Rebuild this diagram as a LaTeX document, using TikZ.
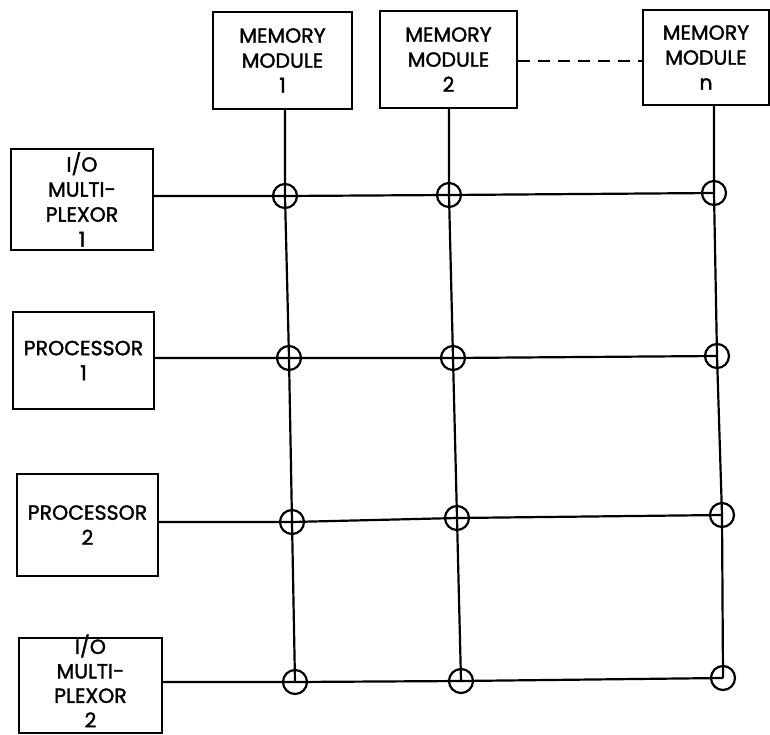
\documentclass[tikz,border=0pt]{standalone}
\usepackage{fontspec}
\setmainfont{Poppins}[FakeBold=1.6]
\begin{document}
\begin{tikzpicture}[x=1pt,y=-1pt,
  box/.style={draw,line width=2.2pt,rectangle,align=center,inner sep=0pt,
    font=\fontsize{20.5}{25}\selectfont},
  txt/.style={align=center,inner sep=0pt,font=\fontsize{20.5}{24.5}\selectfont},
  xing/.style={draw,circle,line width=2.2pt,minimum size=24pt,inner sep=0pt},
  wire/.style={line width=2.2pt}]
\useasboundingbox (0,0) rectangle (770,735);
% memory modules
\node[box,minimum width=139pt,minimum height=97pt] (m1) at (282.5,60.5) {MEMORY\\MODULE\\1};
\node[box,minimum width=137pt,minimum height=97pt] (m2) at (448.5,59.5) {MEMORY\\MODULE\\2};
\node[box,minimum width=126pt,minimum height=95pt] (mn) at (706,57.5) {MEMORY\\MODULE\\n};
% left units
\node[box,minimum width=142pt,minimum height=101pt] (io1) at (82,199.5) {I/O\\MULTI-\\PLEXOR\\1};
\node[box,minimum width=141pt,minimum height=97pt] (p1) at (83.5,360.5) {PROCESSOR\\1};
\node[box,minimum width=141pt,minimum height=102pt] (p2) at (87.5,525) {PROCESSOR\\2};
\node[box,minimum width=143pt,minimum height=95pt] (io2) at (90.5,685.5) {};
\node[txt] (io2t) at (90.5,681) {I/O\\MULTI-\\PLEXOR\\2};
% crossing points
\node[xing] (c11) at (285,196) {};
\node[xing] (c12) at (449,195) {};
\node[xing] (c1n) at (714,193) {};
\node[xing] (c21) at (289,358) {};
\node[xing] (c22) at (453,358) {};
\node[xing] (c2n) at (717,356) {};
\node[xing] (c31) at (292,522) {};
\node[xing] (c32) at (457,518) {};
\node[xing] (c3n) at (722,515) {};
\node[xing] (c41) at (295,682) {};
\node[xing] (c42) at (461,681) {};
\node[xing] (c4n) at (723,678) {};
% dashed link between modules
\draw[wire,dash pattern=on 12pt off 8pt] (m2.east |- 0,61) -- (mn.west |- 0,61);
% vertical buses
\draw[wire] (m1.south -| c11) -- (c11.center) -- (c21.center) -- (c31.center) -- (c41.center);
\draw[wire] (m2.south -| c12) -- (c12.center) -- (c22.center) -- (c32.center) -- (c42.center);
\draw[wire] (mn.south -| c1n) -- (c1n.center) -- (c2n.center) -- (c3n.center) -- (c4n.center);
% horizontal buses
\draw[wire] (io1.east |- c11) -- (c11.center) -- (c12.center) -- (c1n.center);
\draw[wire] (p1.east |- c21) -- (c21.center) -- (c22.center) -- (c2n.center);
\draw[wire] (p2.east |- c31) -- (c31.center) -- (c32.center) -- (c3n.center);
\draw[wire] (io2.east |- c41) -- (c41.center) -- (c42.center) -- (c4n.center);
\end{tikzpicture}
\end{document}
